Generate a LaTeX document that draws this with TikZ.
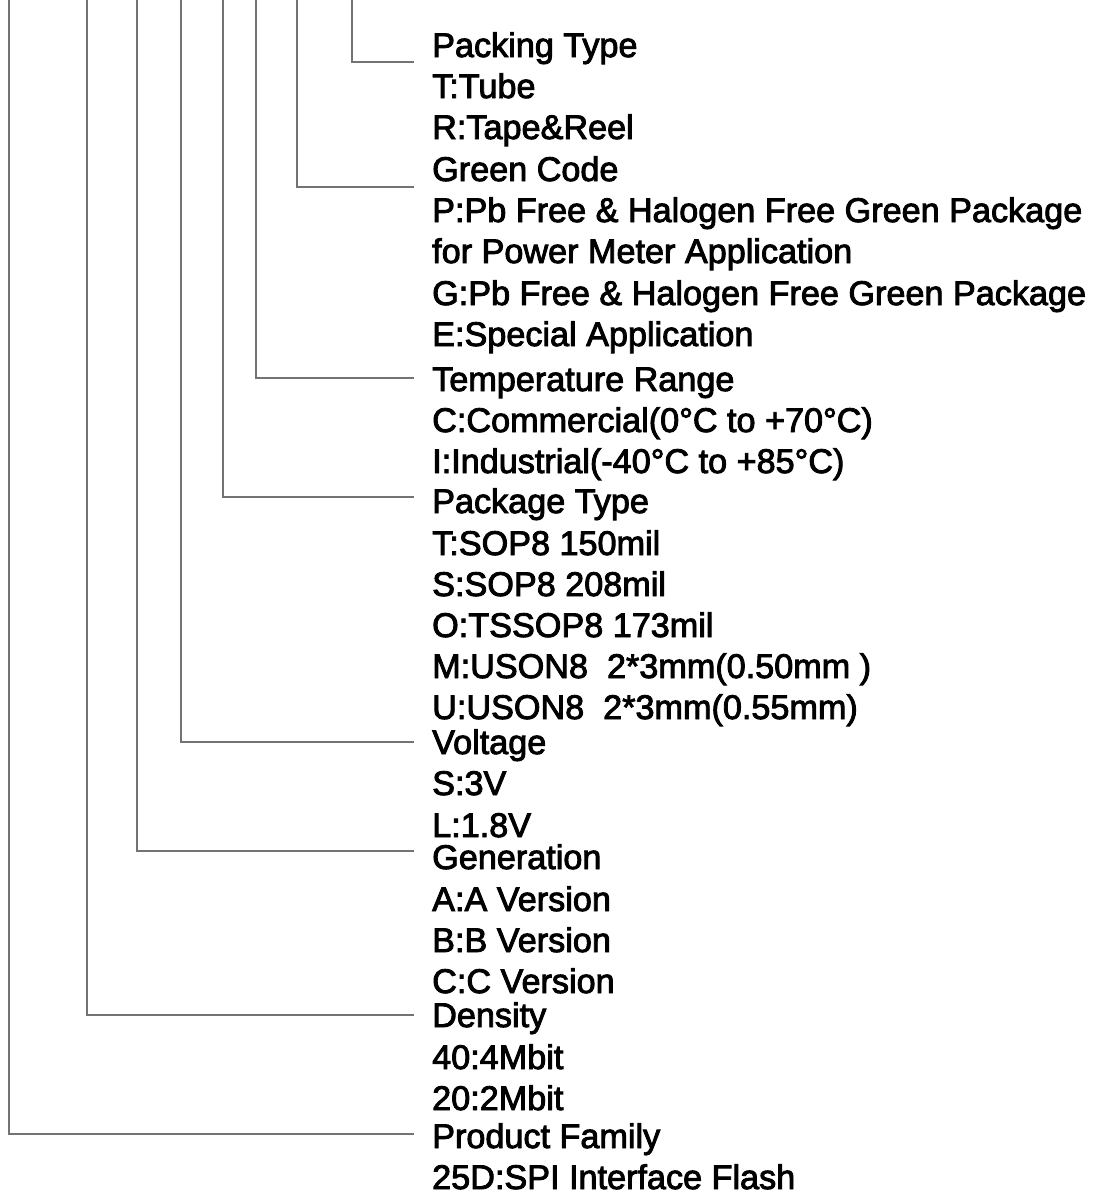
\documentclass[tikz,border=0pt]{standalone}
\usepackage{fontspec}
\setmainfont{Liberation Sans}
\newfontfamily\lblfont{Liberation Sans}[FakeBold=2.6]
\begin{document}
\begin{tikzpicture}[x=1pt,y=-1pt,
  lbl/.style={anchor=base west,inner sep=0pt,font=\lblfont\fontsize{34.2}{38}\selectfont},
  leader/.style={draw=black!55,line width=1.1pt}]
\useasboundingbox (0,0) rectangle (1105,1194);
% texts
\node[lbl] (t1) at (432,57) {Packing Type};
\node[lbl] (t2) at (432,98) {T:Tube};
\node[lbl] (t3) at (432,139) {R:Tape\&Reel};
\node[lbl] (t4) at (432,181) {Green Code};
\node[lbl] (t5) at (432,222) {P:Pb Free \& Halogen Free Green Package};
\node[lbl] (t6) at (432,263) {for Power Meter Application};
\node[lbl] (t7) at (432,305) {G:Pb Free \& Halogen Free Green Package};
\node[lbl] (t8) at (432,346) {E:Special Application};
\node[lbl] (t9) at (432,391) {Temperature Range};
\node[lbl] (t10) at (432,432) {C:Commercial(0°C to +70°C)};
\node[lbl] (t11) at (432,473) {I:Industrial(-40°C to +85°C)};
\node[lbl] (t12) at (432,513) {Package Type};
\node[lbl] (t13) at (432,555) {T:SOP8 150mil};
\node[lbl] (t14) at (432,596) {S:SOP8 208mil};
\node[lbl] (t15) at (432,637) {O:TSSOP8 173mil};
\node[lbl] (t16) at (432,678) {M:USON8\ \ 2*3mm(0.50mm )};
\node[lbl] (t17) at (432,719) {U:USON8\ \ 2*3mm(0.55mm)};
\node[lbl] (t18) at (432,754) {Voltage};
\node[lbl] (t19) at (432,795) {S:3V};
\node[lbl] (t20) at (432,837) {L:1.8V};
\node[lbl] (t21) at (432,869) {Generation};
\node[lbl] (t22) at (432,911) {A:A Version};
\node[lbl] (t23) at (432,952) {B:B Version};
\node[lbl] (t24) at (432,993) {C:C Version};
\node[lbl] (t25) at (432,1027) {Density};
\node[lbl] (t26) at (432,1069) {40:4Mbit};
\node[lbl] (t27) at (432,1110) {20:2Mbit};
\node[lbl] (t28) at (432,1148) {Product Family};
\node[lbl] (t29) at (432,1189) {25D:SPI Interface Flash};
% leader lines
\foreach \n/\x/\y in {a/352/62, b/297/187, c/256/378, d/223/497, e/181/742, f/137/851, g/87/1015, h/9/1134}{
  \coordinate (top\n) at (\x,0);
  \coordinate (end\n) at (414,\y);
  \draw[leader] (top\n) |- (end\n);
}
\end{tikzpicture}
\end{document}
